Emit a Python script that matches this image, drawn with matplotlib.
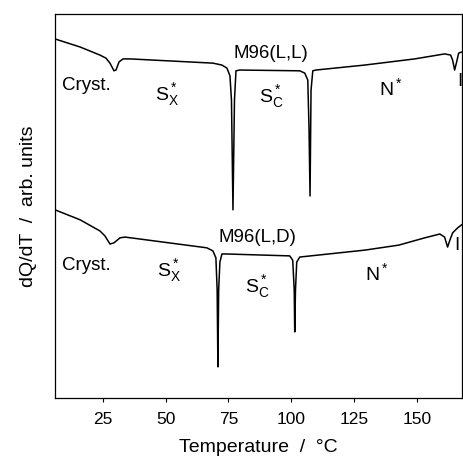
import matplotlib
matplotlib.use("Agg")
import matplotlib.pyplot as plt

plt.rcParams["font.family"] = ["Liberation Sans", "DejaVu Sans"]
plt.rcParams["mathtext.fontset"] = "custom"
plt.rcParams["mathtext.rm"] = "Liberation Sans"
plt.rcParams["mathtext.it"] = "Liberation Sans"

# DSC trace, M96(L,L): temperature (degC) and signal (arb. units)
temp_ll = [5.9, 15.9, 23.8, 26.2, 27.8, 29.4, 30.2, 31.4, 33.0, 35.8,
           68.8, 72.4, 74.4, 75.6, 76.2, 76.8, 77.4, 78.0, 79.5,
           103.4, 105.4, 106.6, 107.1, 107.5, 107.9, 108.6, 109.8,
           129.3, 149.2, 161.1, 163.5, 164.3, 165.1, 165.9, 166.7, 167.9]
sig_ll = [93.5, 91.4, 89.3, 88.5, 87.2, 85.2, 85.4, 87.5, 88.3, 88.3,
          87.2, 86.7, 85.9, 83.9, 77.6, 49.0, 77.6, 85.2, 85.4,
          85.2, 84.6, 82.8, 70.0, 52.6, 80.2, 85.2, 85.4,
          86.7, 88.3, 89.6, 89.3, 88.0, 85.4, 87.5, 89.8, 90.1]

# DSC trace, M96(L,D)
temp_ld = [5.9, 15.9, 23.8, 25.8, 27.8, 29.4, 31.8, 33.8,
           66.4, 68.8, 70.0, 70.5, 70.8, 71.1, 71.6, 72.4, 74.0,
           99.4, 100.6, 101.2, 101.4, 101.7, 102.2, 103.4,
           129.3, 142.8, 153.2, 159.2, 161.1, 162.3, 163.1, 164.3, 166.3, 167.9]
sig_ld = [49.0, 46.4, 43.5, 42.2, 40.1, 40.4, 41.7, 41.9,
          39.1, 38.3, 36.5, 28.1, 8.1, 28.1, 35.4, 37.5, 37.5,
          37.0, 35.9, 28.1, 17.2, 28.1, 35.4, 36.7,
          38.5, 39.8, 41.7, 42.7, 41.9, 39.3, 40.9, 43.0, 44.3, 45.1]

xticks = [25, 50, 75, 100, 125, 150]

fig = plt.figure(figsize=(4.64, 4.66), dpi=100)
ax = fig.add_axes([0.1185, 0.146, 0.877, 0.824])

ax.plot(temp_ll, sig_ll, color="black", lw=1.1)
ax.plot(temp_ld, sig_ld, color="black", lw=1.1)

fs = 13.5
# phase labels, upper trace
ax.text(8.7, 81.5, "Cryst.", fontsize=fs, va="center")
ax.text(45.7, 78.9, r"$\mathregular{S_X^*}$", fontsize=fs + 0.5, va="center")
ax.text(91.9, 89.8, "M96(L,L)", fontsize=fs, ha="center", va="center")
ax.text(87.1, 78.4, r"$\mathregular{S_C^*}$", fontsize=fs + 0.5, va="center")
ax.text(134.9, 80.7, r"$\mathregular{N^*}$", fontsize=fs + 0.5, va="center")
ax.text(167.0, 82.3, "I", fontsize=fs, ha="center", va="center")
# phase labels, lower trace
ax.text(8.7, 34.6, "Cryst.", fontsize=fs, va="center")
ax.text(46.5, 33.1, r"$\mathregular{S_X^*}$", fontsize=fs + 0.5, va="center")
ax.text(86.7, 41.9, "M96(L,D)", fontsize=fs, ha="center", va="center")
ax.text(81.5, 28.9, r"$\mathregular{S_C^*}$", fontsize=fs + 0.5, va="center")
ax.text(129.3, 32.6, r"$\mathregular{N^*}$", fontsize=fs + 0.5, va="center")
ax.text(165.9, 39.6, "I", fontsize=fs, ha="center", va="center")

ax.set_xlim(5.9, 168.0)
ax.set_ylim(0, 100)
ax.set_xticks(xticks)
ax.set_xticklabels([str(t) for t in xticks], fontsize=12.5)
ax.set_yticks([])
ax.tick_params(axis="x", direction="out", length=3, width=0.8, pad=7)

for sp in ax.spines.values():
    sp.set_linewidth(0.9)

ax.set_xlabel("Temperature  /  °C", fontsize=14, labelpad=9)
ax.set_ylabel("dQ/dT  /  arb. units", fontsize=14, labelpad=13)

fig.savefig("out.png", dpi=100)
